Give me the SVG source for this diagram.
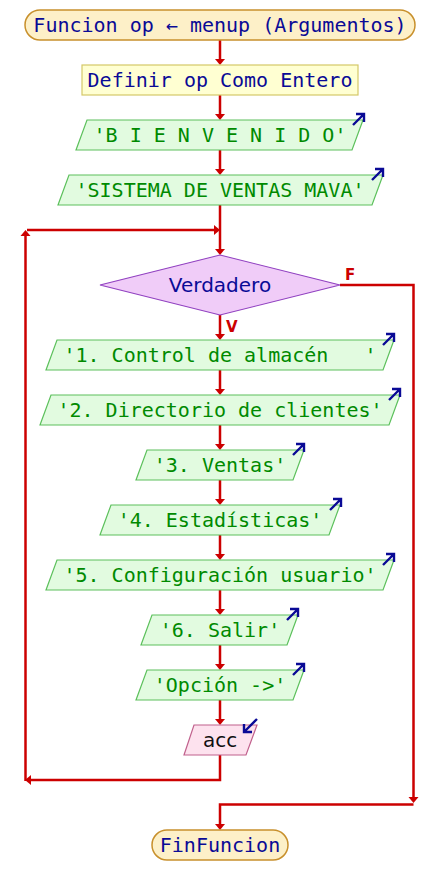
<svg xmlns="http://www.w3.org/2000/svg" width="440" height="895" viewBox="0 0 440 895">
<defs>
<style>
.term{fill:#fdf0c8;stroke:#c8902c;stroke-width:1.5}
.def{fill:#ffffd2;stroke:#d4c868;stroke-width:1.2}
.out{fill:#e2fbe0;stroke:#5cc05c;stroke-width:1.2}
.inp{fill:#fde2ee;stroke:#c0608c;stroke-width:1.2}
.dec{fill:#f0ccf8;stroke:#9040c0;stroke-width:1.2}
.mono{font-family:"DejaVu Sans Mono","Liberation Mono",monospace;font-size:20px;text-anchor:middle;white-space:pre}
.navy{fill:#0a0a96}
.green{fill:#008a00}
.sans{font-family:"DejaVu Sans","Liberation Sans",sans-serif;font-size:20px;text-anchor:middle}
.ln{fill:none;stroke:#cc0000;stroke-width:2.5}
.ah{fill:#cc0000}
.lbl{font-family:"DejaVu Sans","Liberation Sans",sans-serif;font-size:15px;font-weight:bold;fill:#cc0000}
.ico{fill:none;stroke:#0a0a96;stroke-width:2.4}
</style>
<path id="oarr" class="ico" d="M-11 11 L0 0 M-8 0 L0 0 L0 8"/>
<path id="iarr" class="ico" d="M13 -13 L0 0 M0 -8 L0 0 L8 0"/>
</defs>
<g id="connectors">
<path class="ln" d="M220 40 V59"/><polygon class="ah" points="215,59 225,59 220,65"/>
<path class="ln" d="M220 95 V114"/><polygon class="ah" points="215,114 225,114 220,120"/>
<path class="ln" d="M220 150 V169"/><polygon class="ah" points="215,169 225,169 220,175"/>
<path class="ln" d="M220 205 V249"/><polygon class="ah" points="215,249 225,249 220,255"/>
<path class="ln" d="M27 230 H214"/><polygon class="ah" points="214,225 214,235 220,230"/>
<path class="ln" d="M220 315 V334"/><polygon class="ah" points="215,334 225,334 220,340"/>
<path class="ln" d="M220 370 V389"/><polygon class="ah" points="215,389 225,389 220,395"/>
<path class="ln" d="M220 425 V444"/><polygon class="ah" points="215,444 225,444 220,450"/>
<path class="ln" d="M220 480 V499"/><polygon class="ah" points="215,499 225,499 220,505"/>
<path class="ln" d="M220 535 V554"/><polygon class="ah" points="215,554 225,554 220,560"/>
<path class="ln" d="M220 590 V609"/><polygon class="ah" points="215,609 225,609 220,615"/>
<path class="ln" d="M220 645 V664"/><polygon class="ah" points="215,664 225,664 220,670"/>
<path class="ln" d="M220 700 V719"/><polygon class="ah" points="215,719 225,719 220,725"/>
<path class="ln" d="M220 755 V780 H31"/><polygon class="ah" points="31,775 31,785 25,780"/>
<path class="ln" d="M25.5 781 V236"/><polygon class="ah" points="20.5,236 30.5,236 25.5,230"/>
<path class="ln" d="M340 285 H413.5 V797"/><polygon class="ah" points="408.5,797 418.5,797 413.5,803"/>
<path class="ln" d="M413.5 804.5 H220 V824"/><polygon class="ah" points="215,824 225,824 220,830"/>
<text class="lbl" x="345" y="280">F</text>
<text class="lbl" x="226" y="332">V</text>
</g>
<g id="n_start">
<rect class="term" x="25" y="10" width="390" height="30" rx="15"/>
<text class="mono navy" x="220" y="32">Funcion op ← menup (Argumentos)</text>
</g>
<g id="n_def">
<rect class="def" x="82" y="65" width="276" height="30"/>
<text class="mono navy" x="220" y="87">Definir op Como Entero</text>
</g>
<g id="n_bien">
<polygon class="out" points="87,120 363,120 352,150 76,150"/>
<text class="mono green" x="220" y="142">'B I E N V E N I D O'</text>
<use href="#oarr" x="364" y="114"/>
</g>
<g id="n_sist">
<polygon class="out" points="69,175 383,175 372,205 58,205"/>
<text class="mono green" x="220" y="197">'SISTEMA DE VENTAS MAVA'</text>
<use href="#oarr" x="383" y="169"/>
</g>
<g id="n_while">
<polygon class="dec" points="220,255 340,285 220,315 100,285"/>
<text class="sans navy" x="220" y="292">Verdadero</text>
</g>
<g id="n_1">
<polygon class="out" points="57,340 394,340 383,370 46,370"/>
<text class="mono green" x="220" y="362">'1. Control de almacén   '</text>
<use href="#oarr" x="394" y="334"/>
</g>
<g id="n_2">
<polygon class="out" points="51,395 400,395 389,425 40,425"/>
<text class="mono green" x="220" y="417">'2. Directorio de clientes'</text>
<use href="#oarr" x="400" y="389"/>
</g>
<g id="n_3">
<polygon class="out" points="147,450 304,450 293,480 136,480"/>
<text class="mono green" x="220" y="472">'3. Ventas'</text>
<use href="#oarr" x="304" y="444"/>
</g>
<g id="n_4">
<polygon class="out" points="111,505 340,505 329,535 100,535"/>
<text class="mono green" x="220" y="527">'4. Estadísticas'</text>
<use href="#oarr" x="341" y="499"/>
</g>
<g id="n_5">
<polygon class="out" points="57,560 394,560 383,590 46,590"/>
<text class="mono green" x="220" y="582">'5. Configuración usuario'</text>
<use href="#oarr" x="394" y="554"/>
</g>
<g id="n_6">
<polygon class="out" points="152,615 298,615 287,645 141,645"/>
<text class="mono green" x="220" y="637">'6. Salir'</text>
<use href="#oarr" x="298" y="609"/>
</g>
<g id="n_op">
<polygon class="out" points="147,670 304,670 293,700 136,700"/>
<text class="mono green" x="220" y="692">'Opción -&gt;'</text>
<use href="#oarr" x="304" y="664"/>
</g>
<g id="n_acc">
<polygon class="inp" points="194,725 257,725 246,755 184,755"/>
<text class="sans" x="220" y="747" fill="#101010">acc</text>
<use href="#iarr" x="244" y="732"/>
</g>
<g id="n_end">
<rect class="term" x="152" y="830" width="136" height="30" rx="15"/>
<text class="mono navy" x="220" y="852">FinFuncion</text>
</g>
</svg>
